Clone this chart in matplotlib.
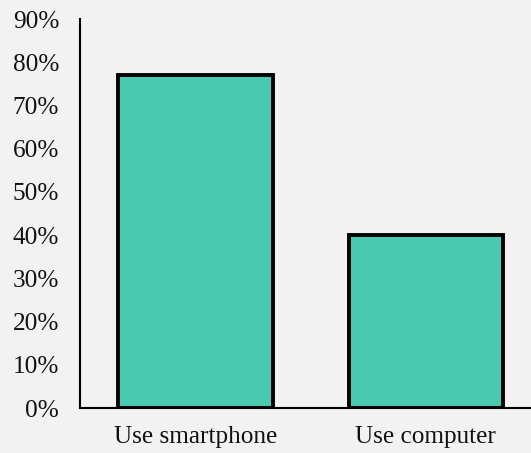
import matplotlib.pyplot as plt
from matplotlib.ticker import PercentFormatter

categories = ["Use smartphone", "Use computer"]
shares = [0.77, 0.40]
y_ticks = [0.0, 0.1, 0.2, 0.3, 0.4, 0.5, 0.6, 0.7, 0.8, 0.9]

plt.rcParams['font.family'] = ['Liberation Serif', 'DejaVu Serif']

fig = plt.figure(figsize=(5.31, 4.53), dpi=100, facecolor='#f2f2f2')
ax = fig.add_axes([0.1507, 0.0993, 0.8493, 0.8587])
ax.set_facecolor('#f2f2f2')

x = range(len(categories))
ax.bar(x, shares, width=0.67, color='#48c9b0', edgecolor='black', linewidth=2.8)

ax.set_xlim(-0.5, 1.456)
ax.set_ylim(0, 0.9)
ax.set_yticks(y_ticks)
ax.yaxis.set_major_formatter(PercentFormatter(1.0, decimals=0))
ax.set_xticks(list(x))
ax.set_xticklabels(categories)

ax.tick_params(axis='both', length=0, labelsize=18.2, colors='#111111')
ax.tick_params(axis='y', pad=15)
ax.tick_params(axis='x', pad=13)

for side in ['top', 'right']:
    ax.spines[side].set_visible(False)
for side in ['left', 'bottom']:
    ax.spines[side].set_linewidth(1.5)
    ax.spines[side].set_color('black')

fig.savefig("out.png", dpi=100, facecolor=fig.get_facecolor())
